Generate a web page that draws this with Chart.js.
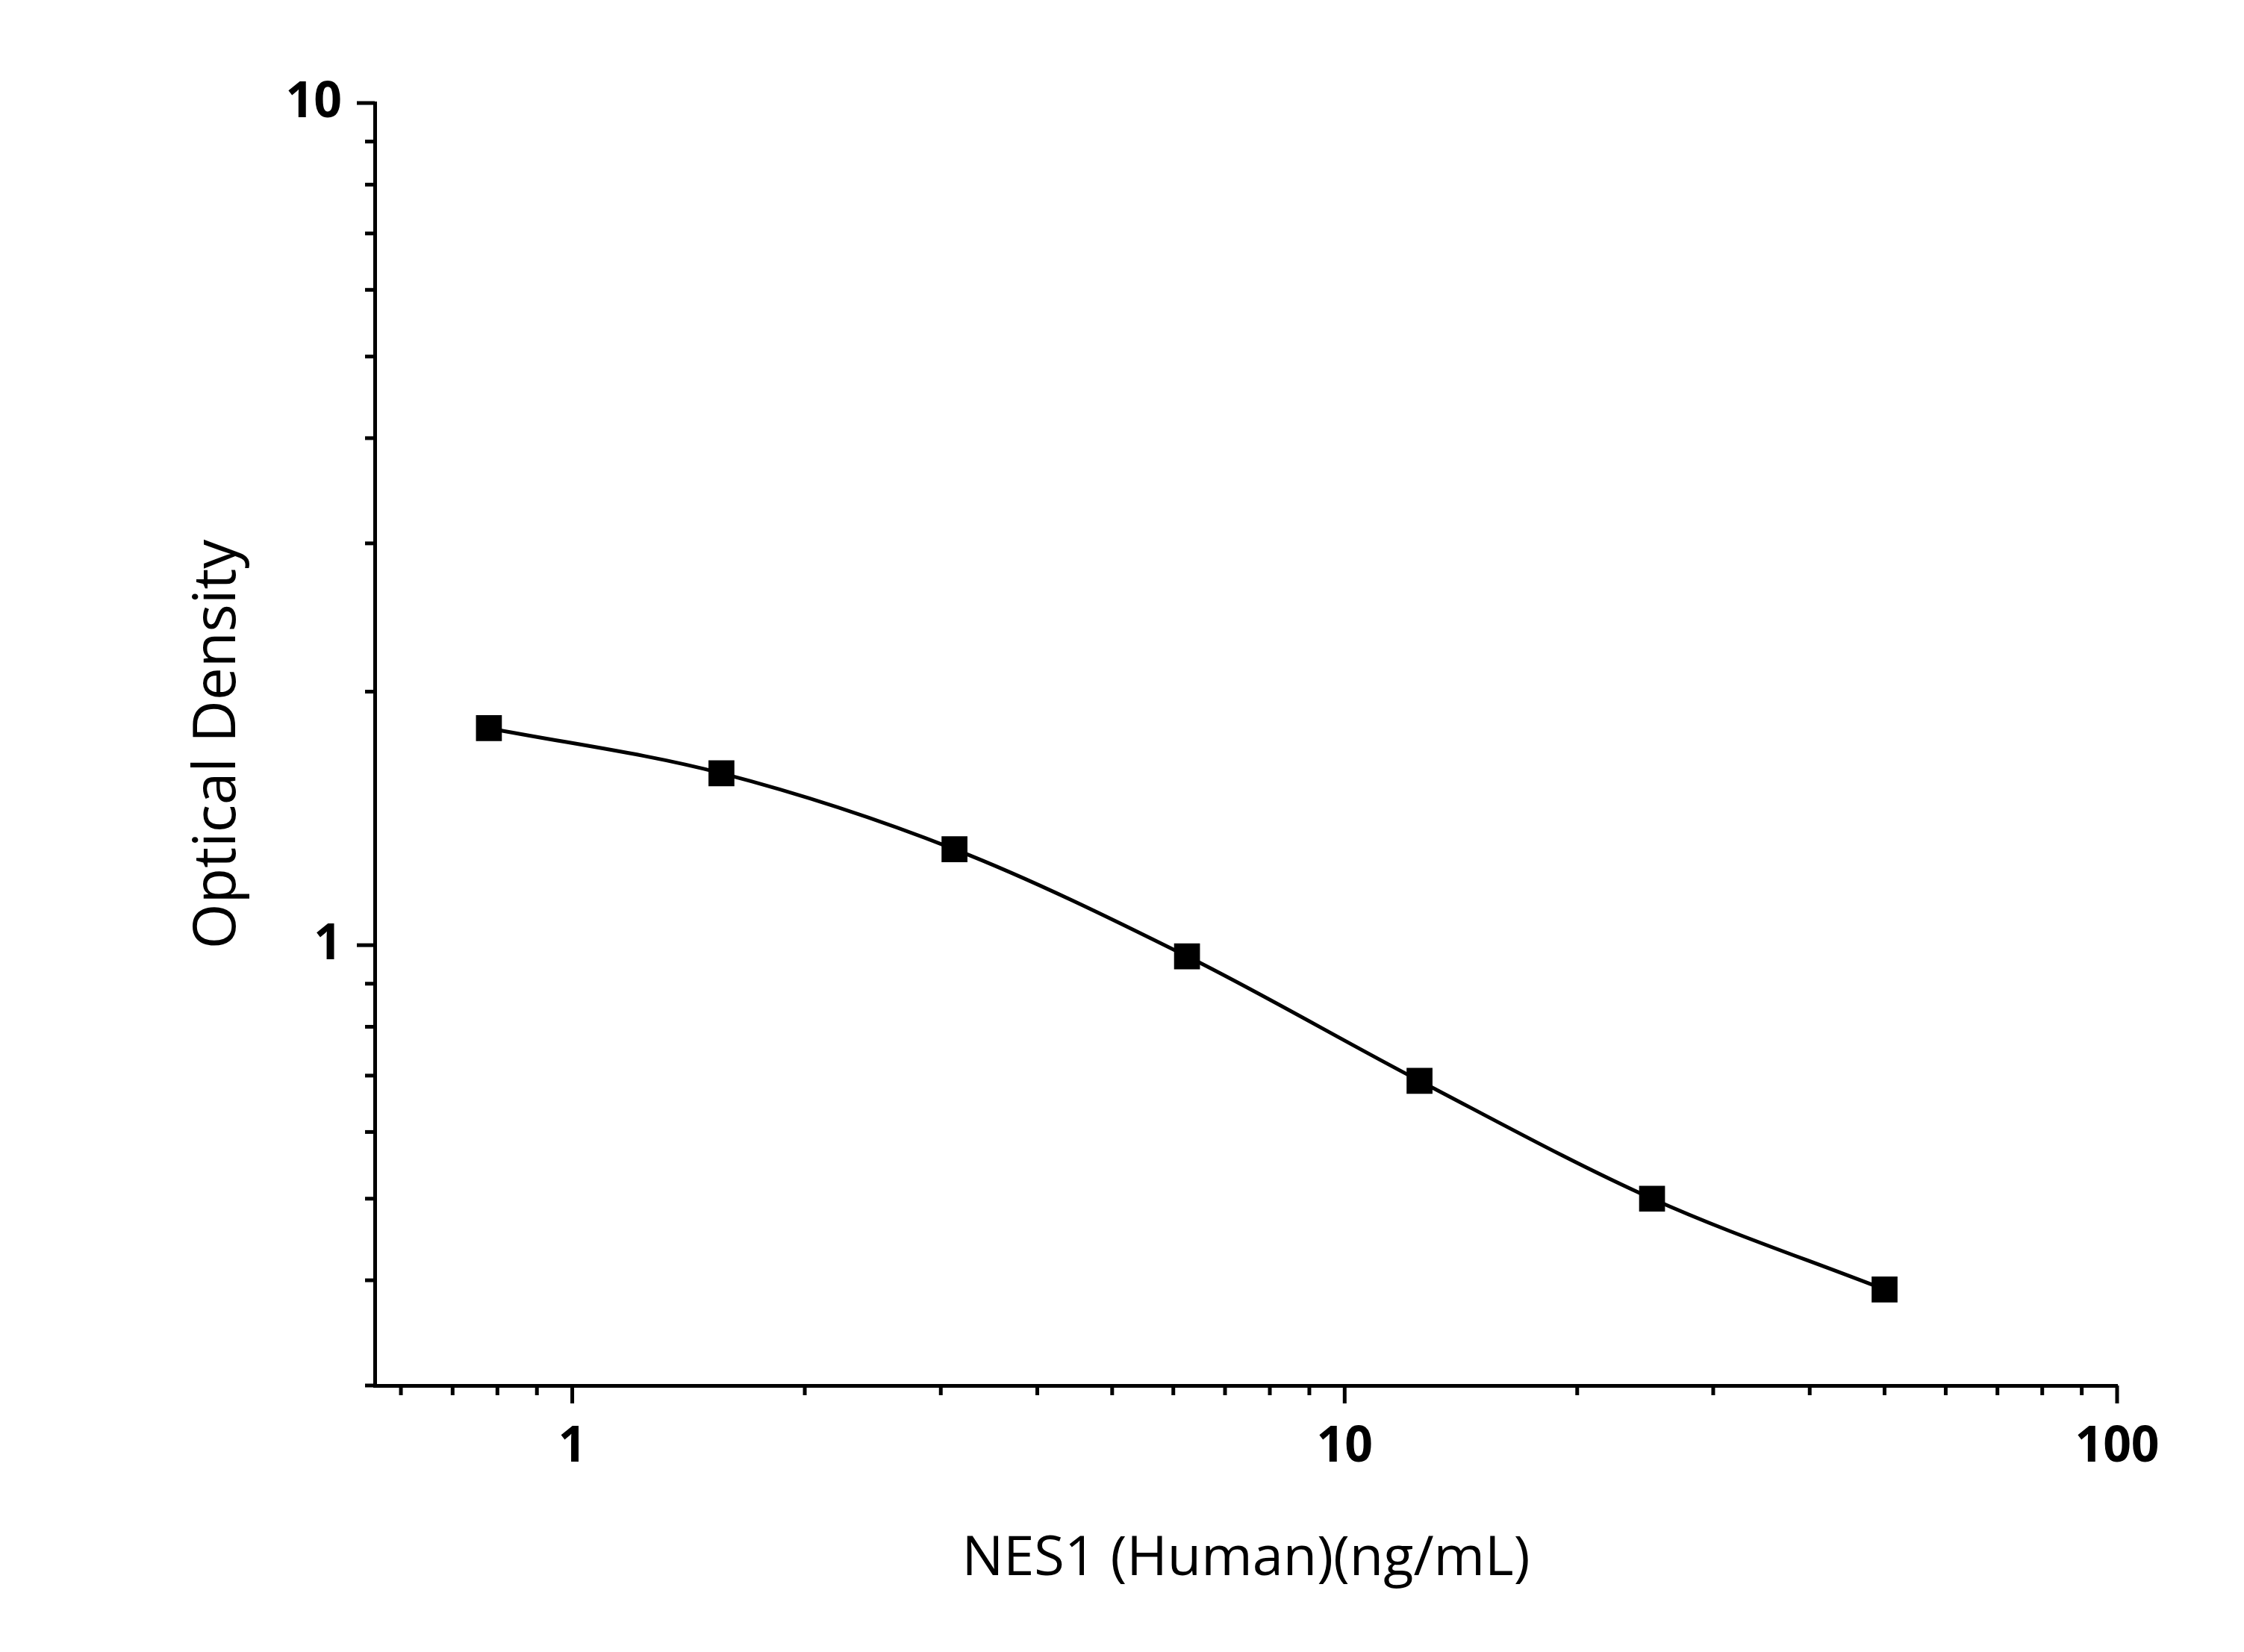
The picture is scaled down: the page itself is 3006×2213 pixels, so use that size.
<!DOCTYPE html>
<html><head><meta charset="utf-8">
<script src="https://cdn.jsdelivr.net/npm/chart.js@4"></script>
<style>html,body{margin:0;background:#fff}#w{width:3006px;height:2213px}</style>
</head><body><div id="w"><canvas id="c"></canvas></div>
<script>
const concentrations = [0.78, 1.56, 3.125, 6.25, 12.5, 25, 50];
const densities = [1.81, 1.60, 1.30, 0.97, 0.69, 0.50, 0.39];
const xLabels = [1, 10, 100];
const yLabels = [1, 10];

const tickPlugin = {
  id: 'ticks',
  afterDraw(chart) {
    const ctx = chart.ctx, x = chart.scales.x, y = chart.scales.y;
    ctx.save(); ctx.strokeStyle = '#000'; ctx.lineWidth = 5;
    for (let d = -1; d <= 2; d++) for (let m = 1; m <= 9; m++) {
      const v = m * Math.pow(10, d);
      const len = m === 1 ? 24 : 13;
      if (v >= x.min && v <= x.max) { const px = x.getPixelForValue(v); ctx.beginPath(); ctx.moveTo(px, x.top); ctx.lineTo(px, x.top + len); ctx.stroke(); }
      if (v >= y.min && v <= y.max) { const py = y.getPixelForValue(v); ctx.beginPath(); ctx.moveTo(y.right, py); ctx.lineTo(y.right - len, py); ctx.stroke(); }
    }
    ctx.restore();
  }
};

new Chart(document.getElementById('c'), {
  type: 'line',
  data: { datasets: [{ data: concentrations.map((c, i) => ({ x: c, y: densities[i] })),
    borderColor: '#000', backgroundColor: '#000', borderWidth: 5,
    pointStyle: 'rect', pointRadius: 21, cubicInterpolationMode: 'monotone' }] },
  options: {
    responsive: true, maintainAspectRatio: false, animation: false,
    layout: { padding: { top: 138, right: 170, left: 246, bottom: 0 } },
    plugins: { legend: { display: false }, tooltip: { enabled: false } },
    scales: {
      x: { type: 'logarithmic', min: 0.555, max: 100,
        grid: { display: false }, border: { display: true, color: '#000', width: 5 },
        afterFit(s) { s.height = 357; },
        afterBuildTicks(s) { s.ticks = xLabels.map(v => ({ value: v })); },
        ticks: { color: '#000', padding: 36, maxRotation: 0, font: { family: 'Open Sans', size: 66, weight: 'bold' }, callback: v => String(v) },
        title: { display: true, text: 'NES1 (Human)(ng/mL)', color: '#000', padding: { top: 0, bottom: 80 }, font: { family: 'Open Sans', size: 74 } } },
      y: { type: 'logarithmic', min: 0.34, max: 10,
        grid: { display: false }, border: { display: true, color: '#000', width: 5 },
        afterFit(s) { s.width = 256; },
        afterBuildTicks(s) { s.ticks = yLabels.map(v => ({ value: v })); },
        ticks: { color: '#000', padding: 36, font: { family: 'Open Sans', size: 66, weight: 'bold' }, callback: v => String(v) },
        title: { display: true, text: 'Optical Density', color: '#000', padding: { top: 0, bottom: 0 }, font: { family: 'Open Sans', size: 78 } } }
    }
  },
  plugins: [tickPlugin]
});
</script></body></html>
